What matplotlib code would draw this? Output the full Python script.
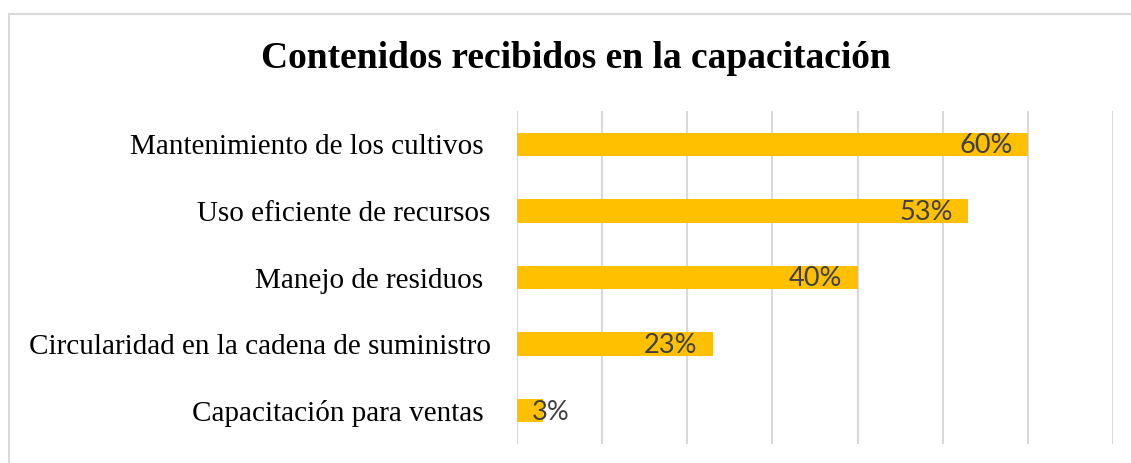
import matplotlib.pyplot as plt
from matplotlib.patches import Rectangle

# datos del gráfico
categorias = ["Mantenimiento de los cultivos ", "Uso eficiente de recursos",
              "Manejo de residuos ", "Circularidad en la cadena de suministro",
              "Capacitación para ventas "]
valores = [60, 53, 40, 23, 3]
titulo = "Contenidos recibidos en la capacitación"

W, H = 1131, 463
fig = plt.figure(figsize=(W / 100, H / 100), dpi=100)
ax = fig.add_axes([517 / W, 1 - 444 / H, (1113 - 517) / W, (444 - 111) / H])

pos = list(range(len(categorias)))
ax.barh(pos, valores, height=0.35, color="#FFC000", zorder=2)
ax.set_ylim(len(categorias) - 0.5, -0.5)
ax.set_xlim(0, 70)

# etiquetas de valores dentro del extremo de la barra
for p, v in zip(pos, valores):
    if v > 5:
        off, ha = (-11, -1), "right"
    else:
        off, ha = (-8, -1), "left"
    ax.annotate(f"{v}%", (v, p), xytext=off, textcoords="offset points",
                ha=ha, va="center", fontsize=19.5, color="#404040",
                family="Lato", zorder=3)

ax.set_yticks(pos)
ax.set_yticklabels(categorias, family="Liberation Serif", fontsize=21)
ax.tick_params(axis="y", length=0, pad=19)
ax.set_xticks(range(0, 71, 10))
ax.tick_params(axis="x", length=0, labelbottom=False)
ax.grid(axis="x", color="#d9d9d9", linewidth=1.5, zorder=0)
for s in ax.spines.values():
    s.set_visible(False)

fig.text(576 / W, 1 - 58 / H, titulo, ha="center", va="center",
         family="Liberation Serif", fontweight="bold", fontsize=27)

# marco gris del gráfico
fig.patches.append(Rectangle((9 / W, -0.5), 2, 0.5 + 1 - 14 / H, transform=fig.transFigure,
                             fill=False, edgecolor="#d9d9d9", linewidth=1.5))

fig.savefig("out.png", dpi=100)
